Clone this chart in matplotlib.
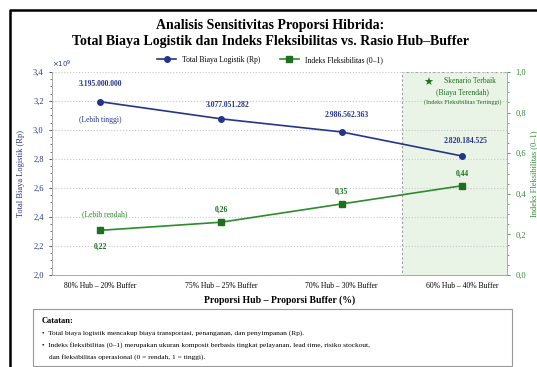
import matplotlib
matplotlib.use("Agg")
import matplotlib.pyplot as plt
from matplotlib.ticker import FuncFormatter, MultipleLocator, AutoMinorLocator
from matplotlib.lines import Line2D
from matplotlib.patches import FancyBboxPatch

plt.rcParams['font.family'] = ['Liberation Serif', 'DejaVu Sans']

categories = ["80% Hub – 20% Buffer", "75% Hub – 25% Buffer",
              "70% Hub – 30% Buffer", "60% Hub – 40% Buffer"]
cost = [3195000000, 3077051282, 2986562363, 2820184525]
flex = [0.22, 0.26, 0.35, 0.44]
cost_labels = ["3.195.000.000", "3.077.051.282", "2.986.562.363", "2.820.184.525"]
flex_labels = ["0,22", "0,26", "0,35", "0,44"]

navy = "#24358a"
green = "#2e8b2e"
dgreen = "#1f6f1f"

W, H = 537, 367
fig = plt.figure(figsize=(W/100, H/100), dpi=100)
ax = fig.add_axes([52/W, 1-275/H, (507-52)/W, (275-72)/H])
ax2 = ax.twinx()

x = list(range(len(categories)))
ax.axvspan(2.5, 3.45, facecolor="#eaf4e6", edgecolor="#9a9a9a", linestyle=(0, (2, 2)), linewidth=0.8, zorder=0)

l1, = ax.plot(x, cost, color=navy, marker='o', markersize=4, linewidth=1.2, zorder=3,
              label="Total Biaya Logistik (Rp)")
l2, = ax2.plot(x, flex, color=green, marker='s', markersize=4, markerfacecolor=dgreen,
               markeredgecolor=dgreen, linewidth=1.2, zorder=3, label="Indeks Fleksibilitas (0–1)")

ax.set_xlim(-0.4, 3.37)
ax.set_ylim(2.0e9, 3.4e9)
ax2.set_ylim(0, 1.0)
ax.yaxis.set_major_locator(MultipleLocator(0.2e9))
ax.yaxis.set_minor_locator(AutoMinorLocator(4))
ax2.yaxis.set_major_locator(MultipleLocator(0.2))
ax2.yaxis.set_minor_locator(AutoMinorLocator(4))
ax.yaxis.set_major_formatter(FuncFormatter(lambda v, p: f"{v/1e9:.1f}".replace('.', ',')))
ax2.yaxis.set_major_formatter(FuncFormatter(lambda v, p: f"{v:.1f}".replace('.', ',')))
ax.grid(axis='y', color='#c8c8c8', linestyle=':', linewidth=0.8)
ax.set_axisbelow(True)

ax.set_xticks(x)
ax.set_xticklabels(categories, fontsize=5.5)
ax.tick_params(axis='x', length=0, pad=5)
ax.tick_params(axis='y', labelsize=6, colors=navy, length=2.5, width=0.6)
ax.tick_params(axis='y', which='minor', length=1.5, width=0.5, colors=navy)
ax2.tick_params(axis='y', labelsize=6, colors=green, length=2.5, width=0.6)
ax2.tick_params(axis='y', which='minor', length=1.5, width=0.5, colors=green)
for a in (ax, ax2):
    for s in a.spines.values():
        s.set_color('#aaaaaa')
        s.set_linewidth(0.6)
    a.spines['top'].set_visible(False)

ax.set_xlabel("Proporsi Hub – Proporsi Buffer (%)", fontsize=7, fontweight='bold', labelpad=4)
ax.set_ylabel("Total Biaya Logistik (Rp)", fontsize=6, color=navy, labelpad=6)
ax2.set_ylabel("Indeks Fleksibilitas (0–1)", fontsize=6, color=green)
ax2.yaxis.set_label_coords(1.05, 0.5)
ax.text(0.0, 1.01, r"$\times10^9$", transform=ax.transAxes, fontsize=5, color=navy, ha='left', va='bottom')

# value labels
offs_c = [(0, 10), (5, 7), (4, 9), (2, 8)]
for xi, yi, lab, o in zip(x, cost, cost_labels, offs_c):
    ax.annotate(lab, (xi, yi), xytext=o, textcoords='offset points', ha='center', va='bottom',
                fontsize=5.5, color=navy, fontweight='bold')
ax.annotate("(Lebih tinggi)", (x[0], cost[0]), xytext=(0, -10), textcoords='offset points',
            ha='center', va='top', fontsize=5.5, color=navy)
for i, (xi, yi, lab) in enumerate(zip(x, flex, flex_labels)):
    if i == 0:
        ax2.annotate(lab, (xi, yi), xytext=(0, -9), textcoords='offset points', ha='center',
                     va='top', fontsize=5.5, color=dgreen, fontweight='bold')
    else:
        ax2.annotate(lab, (xi, yi), xytext=(0, 6), textcoords='offset points', ha='center',
                     va='bottom', fontsize=5.5, color=dgreen, fontweight='bold')
ax2.annotate("(Lebih rendah)", (x[0], flex[0]), xytext=(3, 9), textcoords='offset points',
             ha='center', va='bottom', fontsize=5.5, color=green)

# best scenario annotation
ax2.text(2.72, 0.972, "★", ha='center', va='top', fontsize=8, color=dgreen, family=['DejaVu Sans'])
ax2.text(3.06, 0.975, "Skenario Terbaik", ha='center', va='top', fontsize=5.5, color=dgreen)
ax2.text(3.0, 0.915, "(Biaya Terendah)", ha='center', va='top', fontsize=5.5, color=dgreen)
ax2.text(3.0, 0.865, "(Indeks Fleksibilitas Tertinggi)", ha='center', va='top', fontsize=4.5, color=dgreen)

fig.legend(handles=[l1, l2], loc='center', bbox_to_anchor=(270/W, 1-60/H), ncol=2, frameon=False,
           fontsize=5.5, handlelength=2.5, columnspacing=2.5)

fig.text(270/W, 1-25/H, "Analisis Sensitivitas Proporsi Hibrida:", ha='center', va='center',
         fontsize=10, fontweight='bold')
fig.text(270/W, 1-41/H, "Total Biaya Logistik dan Indeks Fleksibilitas vs. Rasio Hub–Buffer",
         ha='center', va='center', fontsize=10, fontweight='bold')

# notes box
box = FancyBboxPatch((33/W, 1-366/H), (512-33)/W, (366-309)/H, boxstyle="square,pad=0",
                     transform=fig.transFigure, facecolor='white', edgecolor='#999999', linewidth=0.8)
fig.patches.append(box)
fig.text(42/W, 1-321/H, "Catatan:", fontsize=6, fontweight='bold', va='center')
fig.text(42/W, 1-333/H, "•  Total biaya logistik mencakup biaya transportasi, penanganan, dan penyimpanan (Rp).",
         fontsize=5.3, va='center')
fig.text(42/W, 1-345/H, "•  Indeks fleksibilitas (0–1) merupakan ukuran komposit berbasis tingkat pelayanan, lead time, risiko stockout,",
         fontsize=5.3, va='center')
fig.text(49/W, 1-357/H, "dan fleksibilitas operasional (0 = rendah, 1 = tinggi).", fontsize=5.3, va='center')

# frame lines
fig.lines.append(Line2D([10/W, 10/W, 1], [0, 1-10/H, 1-10/H], transform=fig.transFigure,
                        color='black', linewidth=1.8))

fig.savefig("out.png", dpi=100)
